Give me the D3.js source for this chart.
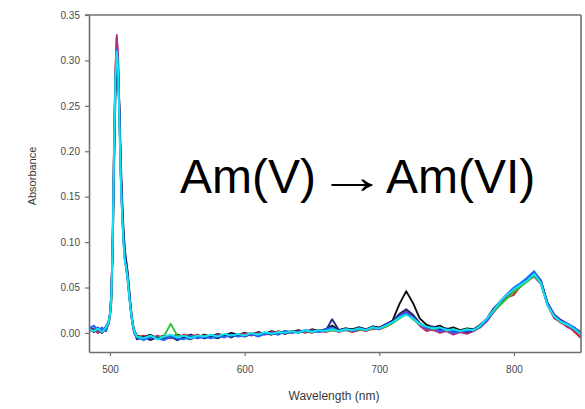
<!DOCTYPE html>
<html>
<head>
<meta charset="utf-8">
<script src="https://cdn.jsdelivr.net/npm/d3@7"></script>
<style>
  html, body { margin: 0; padding: 0; background: #fff; }
  svg { display: block; font-family: "Liberation Sans", Arial, sans-serif; }
</style>
</head>
<body>
<svg id="chart" width="585" height="409"></svg>
<script>
// Wavelength grid (nm): coarse on the baseline, 1 nm across the 505 nm band, 5 nm beyond 520 nm
const wavelengths = [
  485, 488, 491, 494, 497, 499,
  500, 501, 502, 503, 504, 505, 506, 507, 508, 509, 510, 511, 512, 513, 514, 515, 516, 517, 518,
  520, 525, 530, 535, 540, 545, 550, 555, 560, 565,
  570, 575, 580, 585, 590, 595, 600, 605, 610, 615,
  620, 625, 630, 635, 640, 645, 650, 655, 660, 665,
  670, 675, 680, 685, 690, 695, 700, 705, 710, 715,
  720, 725, 730, 735, 740, 745, 750, 755, 760, 765,
  770, 775, 780, 785, 790, 795, 800, 805, 810, 815,
  820, 825, 830, 835, 840, 845, 850
];

// Absorbance spectra recorded during the Am(V) -> Am(VI) oxidation
const specBlack = [
  0.006, 0.001, 0.004, 0.000, 0.005, 0.010,
  0.018, 0.035, 0.090, 0.190, 0.270, 0.305, 0.290, 0.240, 0.180, 0.140, 0.110, 0.088, 0.078, 0.066, 0.050, 0.034, 0.020, 0.010, 0.003,
  -0.003, -0.005, -0.002, -0.006, -0.003, -0.005, -0.002, -0.004, -0.002, -0.005,
  -0.002, -0.004, -0.001, -0.003, 0.000, -0.002, 0.000, -0.002, 0.001, -0.001,
  0.002, 0.000, 0.002, 0.001, 0.003, 0.001, 0.004, 0.002, 0.004, 0.008,
  0.003, 0.005, 0.004, 0.006, 0.004, 0.007, 0.006, 0.009, 0.014, 0.032,
  0.046, 0.033, 0.016, 0.009, 0.006, 0.008, 0.004, 0.006, 0.003, 0.005,
  0.004, 0.009, 0.015, 0.024, 0.033, 0.041, 0.045, 0.051, 0.059, 0.066,
  0.057, 0.032, 0.019, 0.013, 0.009, 0.005, 0.001
];
const specRed = [
  0.003, 0.005, 0.001, 0.004, 0.002, 0.011,
  0.021, 0.042, 0.110, 0.210, 0.290, 0.325, 0.300, 0.240, 0.175, 0.135, 0.105, 0.083, 0.074, 0.063, 0.047, 0.031, 0.018, 0.008, 0.001,
  -0.005, -0.003, -0.006, -0.004, -0.007, -0.003, -0.005, -0.002, -0.004, -0.002,
  -0.005, -0.003, -0.004, -0.002, -0.004, -0.001, -0.002, 0.000, -0.002, 0.000,
  -0.001, 0.002, -0.001, 0.002, 0.001, 0.002, 0.000, 0.003, 0.001, 0.003,
  0.002, 0.003, 0.001, 0.004, 0.002, 0.005, 0.004, 0.007, 0.011, 0.020,
  0.025, 0.019, 0.009, 0.004, 0.003, 0.001, 0.003, -0.001, 0.002, 0.000,
  0.003, 0.007, 0.014, 0.026, 0.034, 0.039, 0.042, 0.052, 0.057, 0.063,
  0.056, 0.031, 0.017, 0.011, 0.008, 0.001, -0.006
];
const specMagenta = [
  0.002, 0.004, 0.000, 0.003, 0.005, 0.012,
  0.020, 0.040, 0.105, 0.205, 0.285, 0.328, 0.305, 0.245, 0.178, 0.134, 0.103, 0.082, 0.073, 0.061, 0.046, 0.030, 0.017, 0.007, 0.000,
  -0.006, -0.004, -0.007, -0.003, -0.005, -0.006, -0.003, -0.005, -0.003, -0.006,
  -0.003, -0.005, -0.002, -0.004, -0.002, -0.003, -0.001, -0.003, 0.000, -0.002,
  0.001, -0.001, 0.001, 0.000, 0.002, 0.000, 0.003, 0.001, 0.002, 0.004,
  0.001, 0.004, 0.002, 0.003, 0.004, 0.004, 0.006, 0.008, 0.012, 0.019,
  0.023, 0.017, 0.008, 0.002, 0.004, 0.000, 0.002, -0.002, 0.001, -0.001,
  0.002, 0.006, 0.013, 0.023, 0.032, 0.040, 0.047, 0.053, 0.058, 0.062,
  0.054, 0.030, 0.016, 0.012, 0.006, 0.003, -0.003
];
const specGreen = [
  0.004, 0.002, 0.005, 0.002, 0.004, 0.010,
  0.019, 0.038, 0.100, 0.200, 0.280, 0.310, 0.290, 0.232, 0.170, 0.130, 0.100, 0.080, 0.070, 0.060, 0.044, 0.029, 0.017, 0.008, 0.001,
  -0.004, -0.005, -0.004, -0.005, -0.004, 0.010, -0.003, -0.004, -0.005, -0.003,
  -0.004, -0.003, -0.004, -0.002, -0.003, -0.002, -0.003, -0.001, -0.002, 0.000,
  -0.001, 0.000, 0.000, 0.001, 0.001, 0.002, 0.001, 0.002, 0.002, 0.003,
  0.002, 0.003, 0.003, 0.004, 0.003, 0.005, 0.005, 0.007, 0.011, 0.016,
  0.021, 0.015, 0.009, 0.006, 0.004, 0.005, 0.003, 0.003, 0.002, 0.003,
  0.003, 0.007, 0.015, 0.024, 0.031, 0.038, 0.045, 0.051, 0.057, 0.063,
  0.055, 0.031, 0.018, 0.012, 0.009, 0.005, 0.000
];
const specNavy = [
  0.007, 0.002, 0.006, 0.001, 0.007, 0.013,
  0.022, 0.045, 0.095, 0.180, 0.260, 0.300, 0.285, 0.250, 0.190, 0.150, 0.115, 0.092, 0.080, 0.068, 0.052, 0.035, 0.020, 0.009, 0.002,
  -0.007, -0.004, -0.008, -0.005, -0.007, -0.004, -0.008, -0.005, -0.007, -0.003,
  -0.006, -0.004, -0.006, -0.002, -0.005, -0.002, -0.004, -0.001, -0.003, 0.000,
  -0.002, 0.001, -0.001, 0.002, 0.000, 0.003, 0.001, 0.003, 0.002, 0.015,
  0.003, 0.005, 0.003, 0.006, 0.003, 0.007, 0.005, 0.010, 0.013, 0.021,
  0.026, 0.020, 0.011, 0.006, 0.007, 0.004, 0.005, 0.001, 0.003, 0.001,
  0.003, 0.008, 0.016, 0.027, 0.035, 0.042, 0.049, 0.054, 0.060, 0.067,
  0.058, 0.033, 0.020, 0.014, 0.010, 0.004, -0.001
];
const specBlue = [
  0.005, 0.008, 0.003, 0.006, 0.002, 0.012,
  0.021, 0.041, 0.102, 0.200, 0.282, 0.312, 0.292, 0.236, 0.172, 0.131, 0.101, 0.081, 0.071, 0.060, 0.045, 0.030, 0.017, 0.007, 0.000,
  -0.005, -0.008, -0.004, -0.006, -0.008, -0.004, -0.006, -0.007, -0.003, -0.006,
  -0.004, -0.006, -0.003, -0.005, -0.002, -0.004, -0.003, -0.001, -0.004, -0.001,
  0.000, -0.002, 0.002, 0.000, 0.001, 0.003, 0.002, 0.001, 0.004, 0.006,
  0.002, 0.004, 0.002, 0.005, 0.003, 0.006, 0.004, 0.009, 0.012, 0.018,
  0.022, 0.017, 0.010, 0.005, 0.006, 0.002, 0.004, 0.000, 0.002, 0.002,
  0.004, 0.007, 0.014, 0.025, 0.035, 0.043, 0.050, 0.055, 0.061, 0.068,
  0.057, 0.032, 0.019, 0.013, 0.010, 0.006, -0.002
];
const specCyan = [
  0.004, 0.002, 0.005, 0.001, 0.006, 0.012,
  0.020, 0.040, 0.100, 0.200, 0.280, 0.310, 0.290, 0.230, 0.170, 0.130, 0.100, 0.080, 0.072, 0.062, 0.045, 0.030, 0.018, 0.008, 0.002,
  -0.004, -0.006, -0.003, -0.007, -0.004, -0.002, -0.005, -0.003, -0.006, -0.003,
  -0.004, -0.002, -0.004, -0.001, -0.003, -0.001, -0.003, 0.000, -0.002, 0.001,
  -0.001, 0.001, 0.000, 0.002, 0.000, 0.003, 0.001, 0.003, 0.002, 0.004,
  0.002, 0.004, 0.003, 0.005, 0.003, 0.006, 0.005, 0.008, 0.012, 0.017,
  0.020, 0.016, 0.010, 0.007, 0.005, 0.006, 0.003, 0.004, 0.002, 0.004,
  0.003, 0.008, 0.016, 0.025, 0.035, 0.042, 0.048, 0.053, 0.058, 0.065,
  0.055, 0.030, 0.018, 0.012, 0.009, 0.004, -0.002
];

// Drawing order: last one ends up on top
const seriesList = [
  { name: "black",   color: "#111111", values: specBlack },
  { name: "red",     color: "#e0202a", values: specRed },
  { name: "magenta", color: "#b0307f", values: specMagenta },
  { name: "green",   color: "#33c233", values: specGreen },
  { name: "navy",    color: "#1c2a80", values: specNavy },
  { name: "blue",    color: "#1e6aff", values: specBlue },
  { name: "cyan",    color: "#10e4f0", values: specCyan }
];

const xTicks = [500, 600, 700, 800];
const yTicks = [0.00, 0.05, 0.10, 0.15, 0.20, 0.25, 0.30, 0.35];

const plot = { left: 89, right: 581, top: 15, bottom: 352 };

const svg = d3.select("#chart");

const x = d3.scaleLinear().domain([484.4, 849.8]).range([plot.left, plot.right]);
const y = d3.scaleLinear().domain([-0.021, 0.35]).range([plot.bottom, plot.top]);

svg.append("defs").append("clipPath").attr("id", "plotClip")
  .append("rect")
  .attr("x", plot.left).attr("y", plot.top)
  .attr("width", plot.right - plot.left).attr("height", plot.bottom - plot.top);

const line = d3.line()
  .x((d, i) => x(wavelengths[i]))
  .y(d => y(d));

const traces = svg.append("g").attr("clip-path", "url(#plotClip)");
seriesList.forEach(s => {
  traces.append("path")
    .datum(s.values)
    .attr("fill", "none")
    .attr("stroke", s.color)
    .attr("stroke-width", 1.9)
    .attr("stroke-linejoin", "round")
    .attr("d", line);
});

const axisColor = "#707070";
const tickText = "#4a4a4a";

// Frame: top and right edges
svg.append("line")
  .attr("x1", plot.left - 4).attr("x2", plot.right)
  .attr("y1", plot.top).attr("y2", plot.top)
  .attr("stroke", axisColor).attr("stroke-width", 1.6);
svg.append("line")
  .attr("x1", plot.right).attr("x2", plot.right)
  .attr("y1", plot.top).attr("y2", plot.bottom)
  .attr("stroke", axisColor).attr("stroke-width", 1.6);

// Axes
const xAxis = svg.append("g")
  .attr("transform", `translate(0,${plot.bottom})`)
  .call(d3.axisBottom(x).tickValues(xTicks).tickFormat(d3.format("d")).tickSize(4).tickSizeOuter(0));
const yAxis = svg.append("g")
  .attr("transform", `translate(${plot.left},0)`)
  .call(d3.axisLeft(y).tickValues(yTicks).tickFormat(d3.format(".2f")).tickSize(4).tickSizeOuter(0));

[xAxis, yAxis].forEach(g => {
  g.select(".domain").attr("stroke", axisColor).attr("stroke-width", 1.6);
  g.selectAll(".tick line").attr("stroke", axisColor).attr("stroke-width", 1.2);
  g.selectAll(".tick text")
    .attr("fill", tickText)
    .style("font-family", '"Liberation Sans", Arial, sans-serif')
    .style("font-size", "10px");
});
xAxis.selectAll(".tick text").attr("dy", "1.35em");
yAxis.selectAll(".tick text").attr("x", -9);

// Axis titles
svg.append("text")
  .attr("x", 334).attr("y", 400)
  .attr("text-anchor", "middle")
  .attr("fill", "#3a3a3a")
  .style("font-size", "12px")
  .text("Wavelength (nm)");

svg.append("text")
  .attr("transform", "translate(36,176) rotate(-90)")
  .attr("text-anchor", "middle")
  .attr("fill", "#3a3a3a")
  .style("font-size", "11px")
  .text("Absorbance");

// Reaction annotation: reactant, stretched thin arrow, product
const note = svg.append("g").attr("fill", "#000").style("font-size", "48px");
note.append("text")
  .attr("x", 180).attr("y", 193)
  .text("Am(V)");
note.append("text")
  .attr("transform", "translate(352,193) scale(1.45,1)")
  .attr("text-anchor", "middle")
  .text("\u2192");
note.append("text")
  .attr("x", 386).attr("y", 193)
  .text("Am(VI)");
</script>
</body>
</html>
